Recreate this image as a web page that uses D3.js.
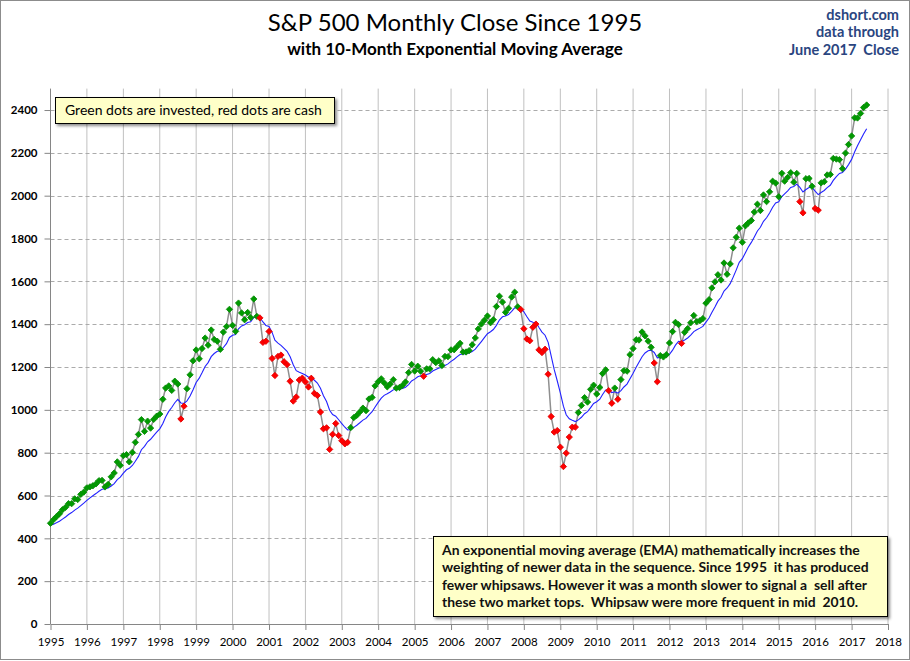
<!DOCTYPE html>
<html lang="en">
<head>
    <meta charset="UTF-8">
    <title>S&amp;P 500 Monthly Close with 10-Month EMA</title>
    <script src="https://d3js.org/d3.v7.min.js"></script>
    <style>
        body { margin: 0; background: #fff; }
        svg text { font-family: Lato, 'Open Sans', sans-serif; }
        .note { white-space: pre; }
    </style>
</head>
<body>
    <div id="chart"></div>

    <script>
        // S&P 500 monthly closes, Jan 1995 .. Jun 2017 (one row per year)
        const startYear = 1995;
        const closes = [
            470.42, 487.39, 500.71, 514.71, 533.40, 544.75, 562.06, 561.88, 584.41, 581.50, 605.37, 615.93,
            636.02, 640.43, 645.50, 654.17, 669.12, 670.63, 639.95, 651.99, 687.33, 705.27, 757.02, 740.74,
            786.16, 790.82, 757.12, 801.34, 848.28, 885.14, 954.31, 899.47, 947.28, 914.62, 955.40, 970.43,
            980.28, 1049.34, 1101.75, 1111.75, 1090.82, 1133.84, 1120.67, 957.28, 1017.01, 1098.67, 1163.63, 1229.23,
            1279.64, 1238.33, 1286.37, 1335.18, 1301.84, 1372.71, 1328.72, 1320.41, 1282.71, 1362.93, 1388.91, 1469.25,
            1394.46, 1366.42, 1498.58, 1452.43, 1420.60, 1454.60, 1430.83, 1517.68, 1436.51, 1429.40, 1314.95, 1320.28,
            1366.01, 1239.94, 1160.33, 1249.46, 1255.82, 1224.42, 1211.23, 1133.58, 1040.94, 1059.78, 1139.45, 1148.08,
            1130.20, 1106.73, 1147.39, 1076.92, 1067.14, 989.82, 911.62, 916.07, 815.28, 885.76, 936.31, 879.82,
            855.70, 841.15, 848.18, 916.92, 963.59, 974.50, 990.31, 1008.01, 995.97, 1050.71, 1058.20, 1111.92,
            1131.13, 1144.94, 1126.21, 1107.30, 1120.68, 1140.84, 1101.72, 1104.24, 1114.58, 1130.20, 1173.82, 1211.92,
            1181.27, 1203.60, 1180.59, 1156.85, 1191.50, 1191.33, 1234.18, 1220.33, 1228.81, 1207.01, 1249.48, 1248.29,
            1280.08, 1280.66, 1294.83, 1310.61, 1270.09, 1270.20, 1276.66, 1303.82, 1335.85, 1377.94, 1400.63, 1418.30,
            1438.24, 1406.82, 1420.86, 1482.37, 1530.62, 1503.35, 1455.27, 1473.99, 1526.75, 1549.38, 1481.14, 1468.36,
            1378.55, 1330.63, 1322.70, 1385.59, 1400.38, 1280.00, 1267.38, 1282.83, 1166.36, 968.75, 896.24, 903.25,
            825.88, 735.09, 797.87, 872.81, 919.14, 919.32, 987.48, 1020.62, 1057.08, 1036.19, 1095.63, 1115.10,
            1073.87, 1104.49, 1169.43, 1186.69, 1089.41, 1030.71, 1101.60, 1049.33, 1141.20, 1183.26, 1180.55, 1257.64,
            1286.12, 1327.22, 1325.83, 1363.61, 1345.20, 1320.64, 1292.28, 1218.89, 1131.42, 1253.30, 1246.96, 1257.60,
            1312.41, 1365.68, 1408.47, 1397.91, 1310.33, 1362.16, 1379.32, 1406.58, 1440.67, 1412.16, 1416.18, 1426.19,
            1498.11, 1514.68, 1569.19, 1597.57, 1630.74, 1606.28, 1685.73, 1632.97, 1681.55, 1756.54, 1805.81, 1848.36,
            1782.59, 1859.45, 1872.34, 1883.95, 1923.57, 1960.23, 1930.67, 2003.37, 1972.29, 2018.05, 2067.56, 2058.90,
            1994.99, 2104.50, 2067.89, 2085.51, 2107.39, 2063.11, 2103.84, 1972.18, 1920.03, 2079.36, 2080.41, 2043.94,
            1940.24, 1932.23, 2059.74, 2065.30, 2096.95, 2098.86, 2173.60, 2170.95, 2168.27, 2126.15, 2198.81, 2238.83,
            2278.87, 2363.64, 2362.72, 2384.20, 2411.80, 2423.41
        ];

        // 10-month EMA, started from the Dec 1994 close
        const emaPeriod = 10;
        const emaSeed = 459.27;

        const yearTicks = [1995, 1996, 1997, 1998, 1999, 2000, 2001, 2002, 2003, 2004, 2005, 2006,
                           2007, 2008, 2009, 2010, 2011, 2012, 2013, 2014, 2015, 2016, 2017, 2018];
        const valueTicks = [0, 200, 400, 600, 800, 1000, 1200, 1400, 1600, 1800, 2000, 2200, 2400];

        const noteLines = [
            'An exponential moving average (EMA) mathematically increases the',
            'weighting of newer data in the sequence. Since 1995  it has produced',
            'fewer whipsaws. However it was a month slower to signal a  sell after',
            'these two market tops.  Whipsaw were more frequent in mid  2010.'
        ];

        const width = 910;
        const height = 661;
        const margin = { top: 88.6, right: 22, bottom: 37, left: 50.5 };

        // build the points: date, close, ema, signal
        const k = 2 / (emaPeriod + 1);
        let prev = emaSeed;
        const points = closes.map((c, i) => {
            prev = prev + k * (c - prev);
            return {
                date: new Date(Date.UTC(startYear, i, 1)),
                close: c,
                ema: prev,
                invested: c >= prev
            };
        });

        const x = d3.scaleUtc()
            .domain([new Date(Date.UTC(yearTicks[0], 0, 1)), new Date(Date.UTC(yearTicks[yearTicks.length - 1], 0, 1))])
            .range([margin.left, width - margin.right]);

        const y = d3.scaleLinear()
            .domain([0, 2500])
            .range([height - margin.bottom, margin.top]);

        const svg = d3.select('#chart')
            .append('svg')
            .attr('width', width)
            .attr('height', height);

        const defs = svg.append('defs');
        defs.append('filter')
            .attr('id', 'shadow')
            .attr('x', '-10%').attr('y', '-30%')
            .attr('width', '130%').attr('height', '180%')
            .append('feDropShadow')
            .attr('dx', 2).attr('dy', 2)
            .attr('stdDeviation', 1.6)
            .attr('flood-color', '#000')
            .attr('flood-opacity', 0.45);

        // outer frame
        svg.append('rect')
            .attr('x', 0.5).attr('y', 0.5)
            .attr('width', width - 1).attr('height', height - 2)
            .attr('fill', '#fff')
            .attr('stroke', '#8c8c8c');

        // grid lines
        svg.append('g')
            .selectAll('line')
            .data(yearTicks.slice(1))
            .join('line')
            .attr('x1', d => x(new Date(Date.UTC(d, 0, 1))))
            .attr('x2', d => x(new Date(Date.UTC(d, 0, 1))))
            .attr('y1', y(2500))
            .attr('y2', y(0))
            .attr('stroke', '#c0c0c0')
            .attr('stroke-width', 1);

        svg.append('g')
            .selectAll('line')
            .data(valueTicks.slice(1))
            .join('line')
            .attr('x1', margin.left)
            .attr('x2', width - margin.right)
            .attr('y1', d => Math.round(y(d)) + 0.5)
            .attr('y2', d => Math.round(y(d)) + 0.5)
            .attr('stroke', '#ababab')
            .attr('stroke-dasharray', '4,3');

        // axes
        const yAxis = svg.append('g')
            .attr('transform', `translate(${margin.left},0)`)
            .call(d3.axisLeft(y).tickValues(valueTicks).tickFormat(d3.format('d'))
                .tickSize(6).tickPadding(7).tickSizeOuter(0));
        yAxis.selectAll('text')
            .attr('font-family', 'Lato, sans-serif')
            .attr('font-size', 11.5)
            .attr('font-weight', 700)
            .attr('fill', '#000');

        const xAxis = svg.append('g')
            .attr('transform', `translate(0,${y(0)})`)
            .call(d3.axisBottom(x)
                .tickValues(yearTicks.map(d => new Date(Date.UTC(d, 0, 1))))
                .tickFormat(d3.utcFormat('%Y'))
                .tickSize(6).tickPadding(8).tickSizeOuter(0));
        xAxis.selectAll('text')
            .attr('font-family', 'Lato, sans-serif')
            .attr('font-size', 11.5)
            .attr('fill', '#000');

        svg.selectAll('.domain, .tick line').attr('stroke', '#868686');
        yAxis.select('.domain').attr('d', `M0,${y(2500)}V${y(0)}`);

        // close line (gray) and EMA (blue)
        svg.append('path')
            .datum(points)
            .attr('fill', 'none')
            .attr('stroke', '#8f8f8f')
            .attr('stroke-width', 1.5)
            .attr('d', d3.line().x(d => x(d.date)).y(d => y(d.close)));

        svg.append('path')
            .datum(points)
            .attr('fill', 'none')
            .attr('stroke', '#2222ff')
            .attr('stroke-width', 1.1)
            .attr('d', d3.line().x(d => x(d.date)).y(d => y(d.ema)));

        // diamond markers
        svg.append('g')
            .selectAll('path')
            .data(points)
            .join('path')
            .attr('transform', d => `translate(${x(d.date)},${y(d.close)}) rotate(45)`)
            .attr('d', d3.symbol().type(d3.symbolSquare).size(20))
            .attr('fill', d => d.invested ? '#009a00' : '#ff0000')
            .attr('stroke', d => d.invested ? '#0a8a0a' : '#e00000')
            .attr('stroke-width', 0.8);

        // titles
        svg.append('text')
            .attr('x', 455).attr('y', 31)
            .attr('text-anchor', 'middle')
            .attr('font-size', 24)
            .text('S&P 500 Monthly Close Since 1995');

        svg.append('text')
            .attr('x', 455).attr('y', 55)
            .attr('text-anchor', 'middle')
            .attr('font-size', 17)
            .attr('font-weight', 700)
            .text('with 10-Month Exponential Moving Average');

        svg.append('g')
            .selectAll('text')
            .data(['dshort.com', 'data through', 'June 2017  Close'])
            .join('text')
            .attr('class', 'note')
            .attr('x', 899)
            .attr('y', (d, i) => 19.5 + i * 17.5)
            .attr('text-anchor', 'end')
            .attr('font-size', 14.5)
            .attr('font-weight', 700)
            .attr('fill', '#2a4580')
            .text(d => d);

        // legend box
        svg.append('rect')
            .attr('x', 55.5).attr('y', 97.5)
            .attr('width', 279).attr('height', 26)
            .attr('fill', '#ffffc8')
            .attr('stroke', '#000')
            .attr('filter', 'url(#shadow)');
        svg.append('text')
            .attr('x', 65).attr('y', 115)
            .attr('font-size', 14)
            .attr('fill', '#000')
            .text('Green dots are invested, red dots are cash');

        // note box
        svg.append('rect')
            .attr('x', 433.5).attr('y', 536.5)
            .attr('width', 454).attr('height', 80)
            .attr('fill', '#ffffc8')
            .attr('stroke', '#000')
            .attr('filter', 'url(#shadow)');
        svg.append('g')
            .selectAll('text')
            .data(noteLines)
            .join('text')
            .attr('class', 'note')
            .attr('x', 442)
            .attr('y', (d, i) => 555 + i * 17.3)
            .attr('font-size', 13.9)
            .attr('font-weight', 700)
            .attr('fill', '#111')
            .text(d => d);
    </script>
</body>
</html>
